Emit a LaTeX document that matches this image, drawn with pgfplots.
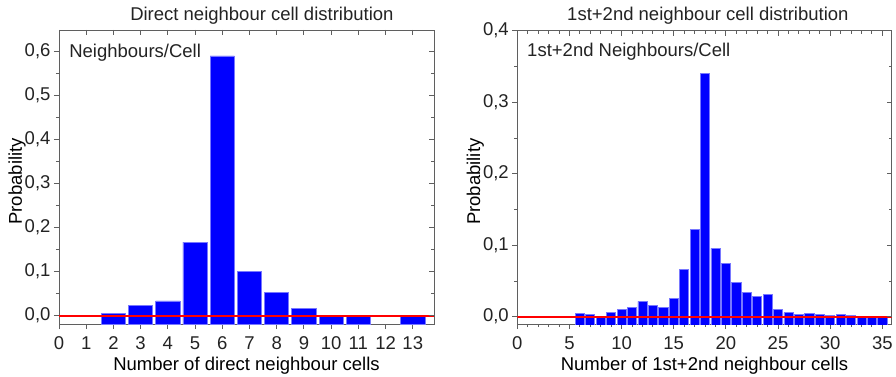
\documentclass[border=0pt]{standalone}
\usepackage{fontspec}
\setmainfont{Liberation Sans}
\usepackage{pgfplots}
\pgfplotsset{compat=1.18}
\definecolor{barblue}{RGB}{0,0,255}
\definecolor{baredge}{RGB}{120,120,255}
\definecolor{axgray}{RGB}{95,95,95}
\definecolor{txt}{RGB}{35,35,35}
\newcommand{\fs}{\fontsize{18.5}{21}\selectfont}
\pgfplotsset{
  base/.style={
    scale only axis,
    font=\fs,
    /pgf/number format/assume math mode=true,
    every axis title shift=0pt,
    tick label style={font=\fs, text=txt},
    label style={font=\fs, text=txt},
    title style={font=\fs, text=txt},
    axis line style={axgray, line width=0.9pt},
    tick style={axgray, line width=0.9pt},
    major tick length=5pt, minor tick length=3pt,
    tick align=outside,
    xtick pos=bottom, ytick pos=left,
    xticklabel style={yshift=-4pt},
    yticklabel style={/pgf/number format/.cd, fixed, fixed zerofill, precision=1, use comma},
    every axis y label/.style={at={(axis description cs:-0.112,0.485)}, rotate=90, anchor=center},
    every axis x label/.style={at={(axis description cs:0.5,-0.142)}, anchor=center},
  },
  over/.style={
    scale only axis,
    axis line style={draw=none},
    tick style={axgray, line width=0.9pt},
    major tick length=5pt, minor tick length=3pt,
    tick align=inside,
    xtick pos=top, ytick pos=right,
    xticklabels={}, yticklabels={},
  },
  bars/.style={ybar, bar shift=0pt, fill=barblue, draw=baredge, line width=0.7pt},
}
\begin{document}
\begin{tikzpicture}
\useasboundingbox (0,0) rectangle (896pt,376pt);
% ---------- left panel ----------
\begin{axis}[base,
  at={(59pt,52pt)}, anchor=south west, width=375pt, height=294pt,
  xmin=0, xmax=13.78, ymin=-0.019, ymax=0.649,
  xtick={0,1,2,3,4,5,6,7,8,9,10,11,12,13},
  ytick={0,0.1,0.2,0.3,0.4,0.5,0.6},
  minor ytick={0.05,0.15,0.25,0.35,0.45,0.55},
  title={Direct neighbour cell distribution},
  title style={at={(axis description cs:0.541,1.05)}, anchor=center},
  xlabel={Number of direct neighbour cells},
  ylabel={Probability},
]
\addplot[bars, bar width=0.89] coordinates {
(2,-0.02) (3,-0.02) (4,-0.02) (5,-0.02) (6,-0.02) (7,-0.02) (8,-0.02) (9,-0.02) (10,-0.02) (11,-0.02) (13,-0.02)};
\addplot[bars, bar width=0.89] coordinates {
(2,0.006) (3,0.0236) (4,0.0334) (5,0.167) (6,0.590) (7,0.100) (8,0.053) (9,0.0168) (10,0.0005) (11,0.0005) (13,0.0005)};
\addplot[red, line width=1.8pt] coordinates {(0,0) (13.78,0)};
\node[anchor=west, inner sep=0pt, font=\fs, text=txt] at (axis description cs:0.027,0.922) {Neighbours/Cell};
\end{axis}
\begin{axis}[over,
  at={(59pt,52pt)}, anchor=south west, width=375pt, height=294pt,
  xmin=0, xmax=13.78, ymin=-0.019, ymax=0.649,
  xtick={0,1,2,3,4,5,6,7,8,9,10,11,12,13},
  ytick={0,0.1,0.2,0.3,0.4,0.5,0.6},
  minor ytick={0.05,0.15,0.25,0.35,0.45,0.55},
]
\end{axis}
% ---------- right panel ----------
\begin{axis}[base,
  at={(517.3pt,52pt)}, anchor=south west, width=374.4pt, height=293.3pt,
  xmin=0, xmax=35.9, ymin=-0.0102, ymax=0.4,
  xtick={0,5,10,15,20,25,30,35},
  minor xtick={1,2,3,4,6,7,8,9,11,12,13,14,16,17,18,19,21,22,23,24,26,27,28,29,31,32,33,34},
  ytick={0,0.1,0.2,0.3,0.4},
  minor ytick={0.05,0.15,0.25,0.35},
  title={1st+2nd neighbour cell distribution},
  title style={at={(axis description cs:0.509,1.05)}, anchor=center},
  xlabel={Number of 1st+2nd neighbour cells},
  ylabel={Probability},
]
\addplot[bars, bar width=0.87] coordinates {
(6,-0.02) (7,-0.02) (8,-0.02) (9,-0.02) (10,-0.02) (11,-0.02) (12,-0.02) (13,-0.02) (14,-0.02) (15,-0.02)
(16,-0.02) (17,-0.02) (18,-0.02) (19,-0.02) (20,-0.02) (21,-0.02) (22,-0.02) (23,-0.02) (24,-0.02) (25,-0.02)
(26,-0.02) (27,-0.02) (28,-0.02) (29,-0.02) (30,-0.02) (31,-0.02) (32,-0.02) (33,-0.02) (34,-0.02) (35,-0.02)};
\addplot[bars, bar width=0.87] coordinates {
(6,0.0042) (7,0.0032) (8,0.0005) (9,0.0056) (10,0.0107) (11,0.013) (12,0.0214) (13,0.0163) (14,0.0126) (15,0.0256)
(16,0.0666) (17,0.1215) (18,0.340) (19,0.0954) (20,0.075) (21,0.0485) (22,0.0345) (23,0.028) (24,0.031) (25,0.0102)
(26,0.0056) (27,0.0028) (28,0.0046) (29,0.0028) (30,0.0018) (31,0.0028) (32,0.0018) (33,0.0003) (34,0.0003) (35,0.0003)};
\addplot[red, line width=1.8pt] coordinates {(0,0) (35.9,0)};
\node[anchor=west, inner sep=0pt, font=\fs, text=txt] at (axis description cs:0.026,0.928) {1st+2nd Neighbours/Cell};
\end{axis}
\begin{axis}[over,
  at={(517.3pt,52pt)}, anchor=south west, width=374.4pt, height=293.3pt,
  xmin=0, xmax=35.9, ymin=-0.0102, ymax=0.4,
  xtick={0,5,10,15,20,25,30,35},
  minor xtick={1,2,3,4,6,7,8,9,11,12,13,14,16,17,18,19,21,22,23,24,26,27,28,29,31,32,33,34},
  ytick={0,0.1,0.2,0.3,0.4},
  minor ytick={0.05,0.15,0.25,0.35},
]
\end{axis}
\end{tikzpicture}
\end{document}
